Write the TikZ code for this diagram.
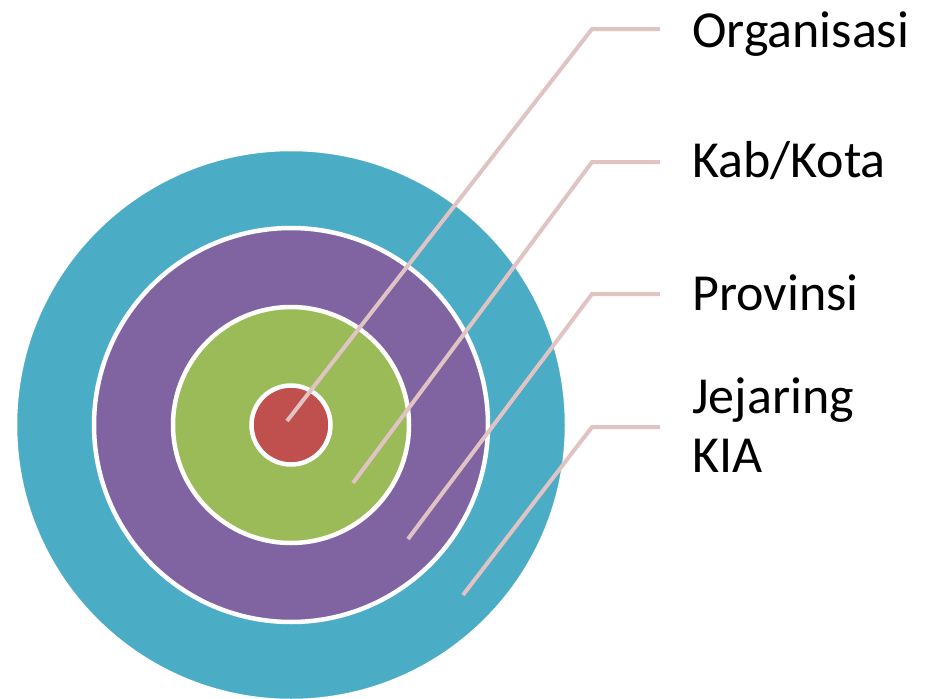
\documentclass[tikz,border=0pt]{standalone}
\usepackage{fontspec}
\setmainfont{Carlito}
\usepackage{xcolor}
\definecolor{ringteal}{HTML}{4BACC6}
\definecolor{ringpurple}{HTML}{8064A2}
\definecolor{ringgreen}{HTML}{9BBB59}
\definecolor{ringred}{HTML}{C0504D}
\definecolor{leaderpink}{HTML}{E0C3C3}

\begin{document}
\begin{tikzpicture}[
        x=1pt,
        y=-1pt,
        ring/.style={
                draw=white,
                line width=4.5pt
                },
        leader/.style={
                leaderpink,
                line width=4pt
                },
        tag/.style={
                anchor=base west,
                inner sep=0pt,
                font=\fontsize{52pt}{59pt}\selectfont,
                align=left
                }
        ]

\useasboundingbox (0,0) rectangle (930,699);

%centre of the rings
\coordinate (c) at (291,425);

%rings, outer first
\filldraw[ring, fill=ringteal] (c) circle [radius=276];
\filldraw[ring, fill=ringpurple] (c) circle [radius=197];
\filldraw[ring, fill=ringgreen] (c) circle [radius=118];
\filldraw[ring, fill=ringred] (c) circle [radius=39.5];

%labels (base of a two-line tag is its last line)
\node[tag] (organisasi) at (692,47) {Organisasi};
\node[tag] (kabkota) at (692,177) {Kab/Kota};
\node[tag] (provinsi) at (692,310) {Provinsi};
\node[tag] (jejaring) at (692,472) {Jejaring\\KIA};

%leader lines
\foreach \name/\sx/\sy/\ky in {
                    organisasi/287/421/29,
                    kabkota/353/483/162,
                    provinsi/408/539/294,
                    jejaring/463/595/427}
{
\coordinate (\name-start) at (\sx,\sy);
\coordinate (\name-bend) at (592,\ky);
\coordinate (\name-end) at (660,\ky);
\draw[leader] (\name-start) -- (\name-bend) -- (\name-end);
}
\end{tikzpicture}
\end{document}
